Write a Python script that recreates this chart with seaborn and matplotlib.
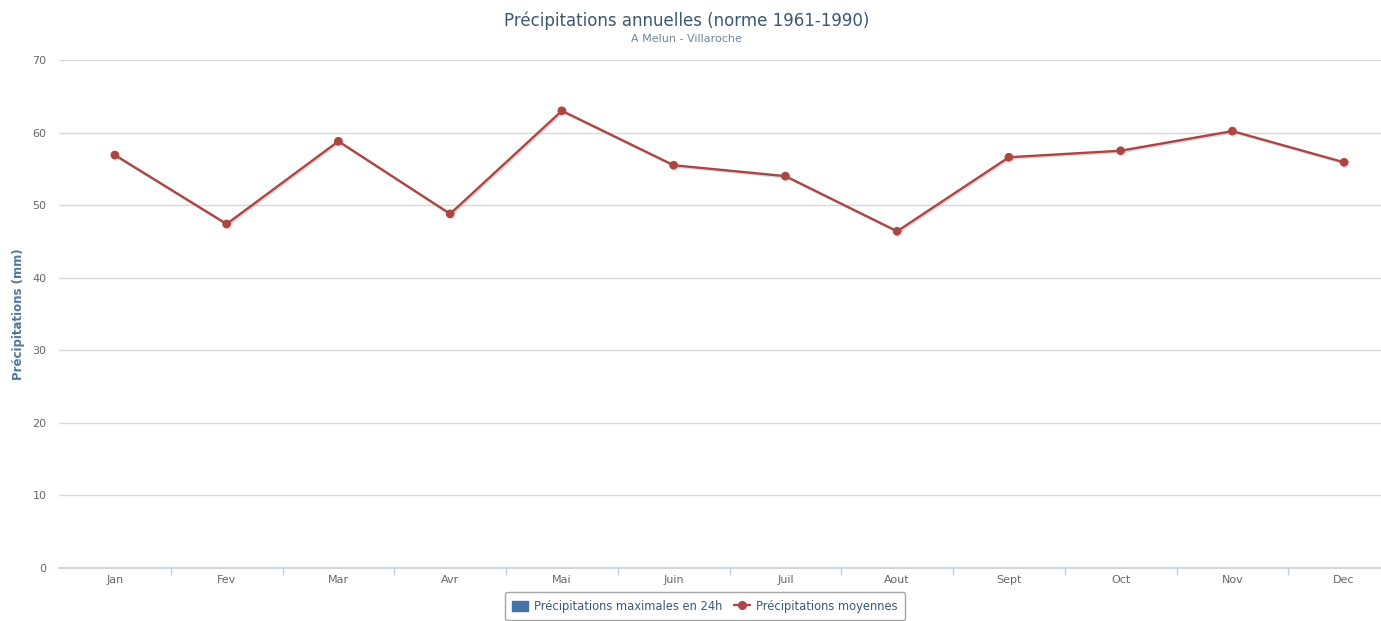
import matplotlib
matplotlib.use("Agg")
import matplotlib.pyplot as plt
import matplotlib.patheffects as pe
from matplotlib.patches import Patch
from matplotlib.lines import Line2D
import seaborn as sns
import pandas as pd

mois = ["Jan", "Fev", "Mar", "Avr", "Mai", "Juin", "Juil", "Aout", "Sept", "Oct", "Nov", "Dec"]
precip_moy = [56.9, 47.4, 58.8, 48.8, 63.0, 55.5, 54.0, 46.4, 56.6, 57.5, 60.2, 55.9]
y_ticks = [0, 10, 20, 30, 40, 50, 60, 70]

ligne_col = "#AA4643"
barre_col = "#4572A7"

sns.set_style("white")
plt.rcParams['font.family'] = ['DejaVu Sans']

df = pd.DataFrame({"mois": mois, "pos": range(len(mois)), "val": precip_moy})

fig = plt.figure(figsize=(13.81, 6.21), dpi=100)
ax = fig.add_axes([59 / 1381, 1 - 568 / 621, 1341 / 1381, 508 / 621])

sns.lineplot(data=df, x="pos", y="val", color=ligne_col, marker="o", markersize=5.5,
             markeredgecolor=ligne_col, linewidth=1.7, ax=ax, zorder=5,
             path_effects=[pe.SimpleLineShadow(offset=(1, -1), shadow_color="#999999", alpha=0.35),
                           pe.Normal()])

ax.set_xlim(-0.5, len(mois) - 0.5)
ax.set_ylim(0, 70)
ax.set_yticks(y_ticks)
ax.set_yticklabels([str(v) for v in y_ticks], color="#666666", fontsize=8)
ax.set_xticks(range(len(mois)))
ax.set_xticklabels(mois, color="#666666", fontsize=8)
ax.tick_params(axis="x", length=0, pad=5)
ax.tick_params(axis="y", length=0, pad=9)
ax.set_xticks([i + 0.5 for i in range(len(mois) - 1)], minor=True)
ax.tick_params(axis="x", which="minor", bottom=True, length=5, color="#C0D0E0", width=1)

ax.grid(axis="y", color="#D8D8D8", linewidth=1)
ax.set_axisbelow(True)
for s in ["top", "right", "left"]:
    ax.spines[s].set_visible(False)
ax.spines["bottom"].set_color("#C0D0E0")
ax.spines["bottom"].set_linewidth(1.2)
ax.spines["bottom"].set_zorder(6)

ax.set_xlabel("")
ax.set_ylabel("Précipitations (mm)", color="#4D759E", fontsize=8.5, fontweight="bold")
ax.yaxis.set_label_coords(-0.025, 0.5)

fig.text(0.497, 0.966, "Précipitations annuelles (norme 1961-1990)", ha="center", va="center",
         color="#3E576F", fontsize=12)
fig.text(0.497, 0.937, "A Melun - Villaroche", ha="center", va="center",
         color="#6D869F", fontsize=8)

handles = [Patch(facecolor=barre_col, edgecolor=barre_col, label="Précipitations maximales en 24h"),
           Line2D([0], [0], color=ligne_col, marker="o", markersize=5.5, linewidth=1.7,
                  label="Précipitations moyennes")]
leg = fig.legend(handles=handles, loc="lower center", bbox_to_anchor=(0.5105, -0.008), ncol=2,
                 frameon=True, fontsize=8.3, handlelength=1.4, handleheight=1.0,
                 columnspacing=1.0, handletextpad=0.5, borderpad=0.65, fancybox=True)
leg.get_frame().set_edgecolor("#909090")
leg.get_frame().set_linewidth(1)
for t in leg.get_texts():
    t.set_color("#3E576F")

fig.savefig("out.png", dpi=100)
